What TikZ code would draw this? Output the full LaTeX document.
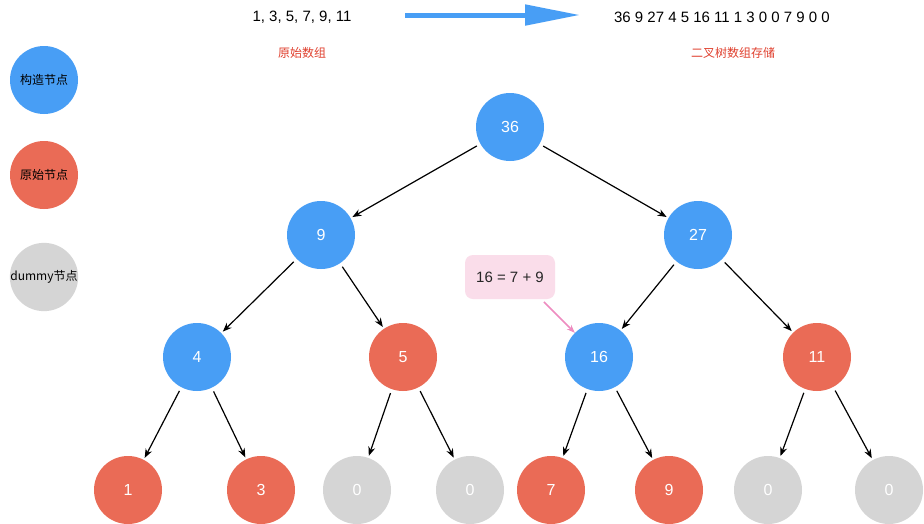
\documentclass[tikz,border=0pt]{standalone}
\usepackage{fontspec}
\setmainfont{Liberation Sans}
\newfontfamily\cjk{Noto Sans CJK SC}
\usetikzlibrary{arrows.meta}
\definecolor{cblue}{HTML}{489EF5}
\definecolor{cred}{HTML}{EA6B56}
\definecolor{cgray}{HTML}{D5D5D5}
\definecolor{cpink}{HTML}{FADDEA}
\definecolor{cpinkline}{HTML}{EE8CC0}
\definecolor{clabel}{HTML}{E0402E}
\begin{document}
\begin{tikzpicture}[x=1pt,y=-1pt,
  nd/.style={circle,minimum size=68pt,inner sep=0pt,text=white,font=\fontsize{16}{18}\selectfont},
  bl/.style={nd,fill=cblue},
  rd/.style={nd,fill=cred},
  gr/.style={nd,fill=cgray},
  lg/.style={circle,minimum size=68pt,inner sep=0pt,text=black,font=\cjk\fontsize{12}{14}\selectfont},
  ed/.style={-{Stealth[length=9pt,width=7pt]},line width=1.2pt,shorten <=4pt,shorten >=2pt},
  lbl/.style={text=clabel,font=\cjk\fontsize{12}{14}\selectfont}]
\fill[white] (0,0) rectangle (924,523);
\useasboundingbox (0,0) rectangle (924,523);
\node[lg,fill=cblue] (l1) at (44,80) {构造节点};
\node[lg,fill=cred] (l2) at (44,175) {原始节点};
\node[lg,fill=cgray] (l3) at (44,277) {dummy节点};
\node[font=\fontsize{15}{17}\selectfont] (src) at (302,17) {1, 3, 5, 7, 9, 11};
\node[font=\fontsize{15}{17}\selectfont] (dst) at (722,17) {36 9 27 4 5 16 11 1 3 0 0 7 9 0 0};
\coordinate (as) at (405,15);
\coordinate (ae) at (580,15);
\draw[cblue,line width=5pt,-{Triangle[length=55pt,width=20pt]}] (as) -- (ae);
\node[lbl] (t1) at (302,53) {原始数组};
\node[lbl] (t2) at (733,53) {二叉树数组存储};
\node[bl] (n36) at (510,127) {36};
\node[bl] (n9) at (321,235) {9};
\node[bl] (n27) at (698,235) {27};
\node[bl] (n4) at (197,357) {4};
\node[rd] (n5) at (403,357) {5};
\node[bl] (n16) at (599,357) {16};
\node[rd] (n11) at (817,357) {11};
\node[rd] (b1) at (128,490) {1};
\node[rd] (b3) at (261,490) {3};
\node[gr] (b0a) at (357,490) {0};
\node[gr] (b0b) at (470,490) {0};
\node[rd] (b7) at (551,490) {7};
\node[rd] (b9) at (669,490) {9};
\node[gr] (b0c) at (768,490) {0};
\node[gr] (b0d) at (889,490) {0};
\foreach \a/\b in {n36/n9,n36/n27,n9/n4,n9/n5,n27/n16,n27/n11,n4/b1,n4/b3,n5/b0a,n5/b0b,n16/b7,n16/b9,n11/b0c,n11/b0d}
  \draw[ed] (\a) -- (\b);
\node[fill=cpink,rounded corners=8pt,minimum width=90pt,minimum height=44pt,font=\fontsize{15}{17}\selectfont,text=black!85] (cal) at (510,277) {16 = 7 + 9};
\draw[cpinkline,line width=1.5pt,-{Stealth[length=8pt,width=6pt]},shorten <=1pt] (cal.south east) ++(-12,2) coordinate (cs) -- (n16);
\end{tikzpicture}
\end{document}
